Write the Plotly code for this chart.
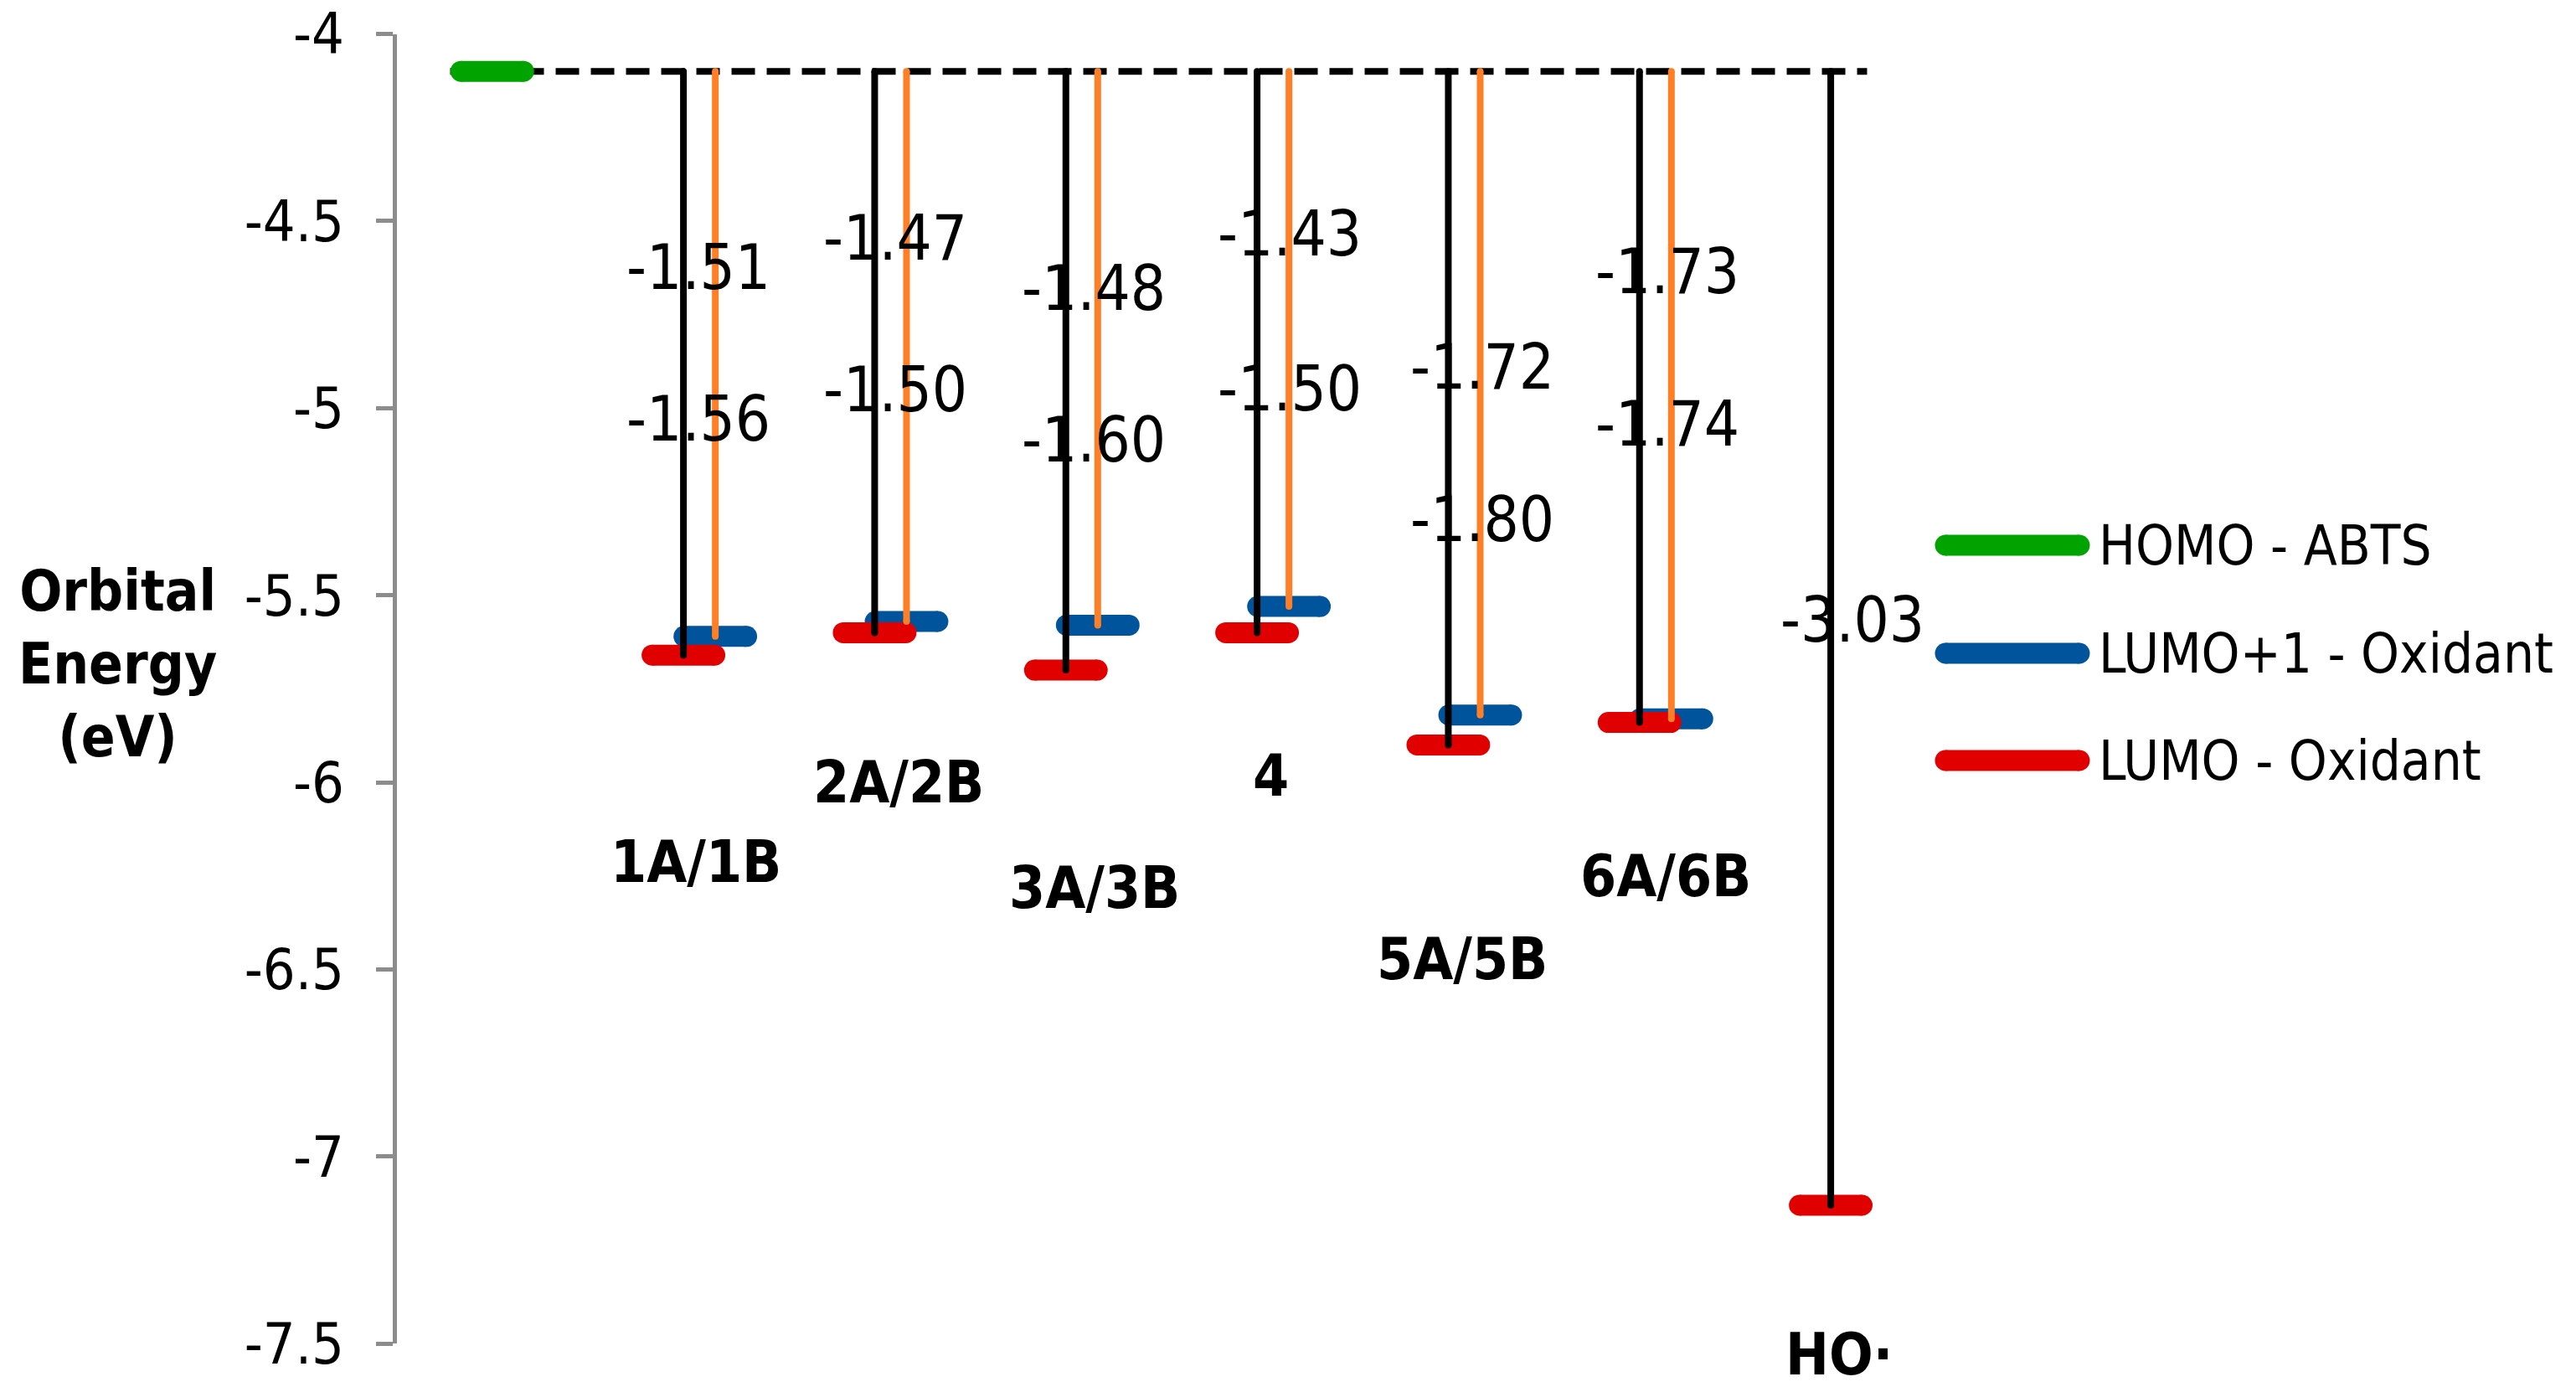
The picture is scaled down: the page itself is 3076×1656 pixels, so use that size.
import plotly.graph_objects as go

# ---------------- data ----------------
CATEGORIES = ["1A/1B", "2A/2B", "3A/3B", "4", "5A/5B", "6A/6B", "HO·"]
HOMO_ABTS = -4.10
LUMO_PLUS1 = [-5.61, -5.57, -5.58, -5.53, -5.82, -5.83, None]
LUMO = [-5.66, -5.60, -5.70, -5.60, -5.90, -5.84, -7.13]
TICK_VALUES = [-4, -4.5, -5, -5.5, -6, -6.5, -7, -7.5]
TICK_TEXT = ["-4", "-4.5", "-5", "-5.5", "-6", "-6.5", "-7", "-7.5"]
LEGEND_NAMES = ["HOMO - ABTS", "LUMO+1 - Oxidant", "LUMO - Oxidant"]

# ---------------- layout / style settings ----------------
W, H = 3076, 1656
FONT = "DejaVu Sans Condensed, DejaVu Sans, sans-serif"
GREEN, BLUE, RED, ORANGE = "#00A300", "#00549C", "#E00000", "#FF7F27"
AXIS_GREY = "#8C8C8C"
BLUE_SHIFT = 1 / 6          # LUMO+1 level drawn slightly right of LUMO
HALF = 0.164                # half length of a level bar (without caps)
BAR_W = 25
Y_MIN, Y_MAX = -7.5, -4.0
# where the gap labels sit (x offset of left edge from the black line, y in eV)
LABEL_DX = [-0.309, -0.276, -0.241, -0.215, -0.208, -0.239, -0.272]
LABEL_Y_UP = [-4.623, -4.545, -4.679, -4.534, -4.890, -4.635, None]
LABEL_Y_LOW = [-5.028, -4.950, -5.084, -4.948, -5.297, -5.042, -5.566]
# category label positions (x in category units, y in eV)
CAT_X = [1.064, 2.127, 3.149, 4.074, 5.072, 6.137, 7.043]
CAT_Y = [-6.212, -6.000, -6.282, -5.982, -6.472, -6.250, -7.529]
DASH_X = (-0.22, 7.19)

X_LEFT_PX, X_RIGHT_PX = 473.6, 2300.25
Y_TOP_PX, Y_BOT_PX = 40.5, 1604.3


def ev_to_paper(v):
    px = Y_TOP_PX + (Y_MAX - v) * (Y_BOT_PX - Y_TOP_PX) / (Y_MAX - Y_MIN)
    return 1 - px / H


fig = go.Figure()

pos = [i + 1 for i in range(len(CATEGORIES))]


def level_trace(xs, ys, color):
    tx, ty = [], []
    for x, y in zip(xs, ys):
        if y is None:
            continue
        tx += [x - HALF, x + HALF, None]
        ty += [y, y, None]
    return go.Scatter(x=tx, y=ty, mode="lines+markers",
                      line=dict(color=color, width=BAR_W),
                      marker=dict(color=color, size=BAR_W, symbol="circle", line=dict(width=0)),
                      hoverinfo="skip", showlegend=False)


# dashed HOMO reference line
fig.add_trace(go.Scatter(x=list(DASH_X), y=[HOMO_ABTS, HOMO_ABTS], mode="lines",
                         line=dict(color="black", width=8, dash="28px,14px"),
                         hoverinfo="skip", showlegend=False))
# green HOMO level
fig.add_trace(level_trace([0], [HOMO_ABTS], GREEN))
# blue LUMO+1 levels
fig.add_trace(level_trace([p + BLUE_SHIFT for p in pos], LUMO_PLUS1, BLUE))
# red LUMO levels
fig.add_trace(level_trace(pos, LUMO, RED))

# black vertical lines HOMO -> LUMO
bx, by = [], []
for p, v in zip(pos, LUMO):
    bx += [p, p, None]
    by += [HOMO_ABTS, v, None]
fig.add_trace(go.Scatter(x=bx, y=by, mode="lines+markers",
                         line=dict(color="black", width=8),
                         marker=dict(color="black", size=8),
                         hoverinfo="skip", showlegend=False))
# orange vertical lines HOMO -> LUMO+1
ox, oy = [], []
for p, v in zip(pos, LUMO_PLUS1):
    if v is None:
        continue
    ox += [p + BLUE_SHIFT, p + BLUE_SHIFT, None]
    oy += [HOMO_ABTS, v, None]
fig.add_trace(go.Scatter(x=ox, y=oy, mode="lines+markers",
                         line=dict(color=ORANGE, width=8),
                         marker=dict(color=ORANGE, size=8),
                         hoverinfo="skip", showlegend=False))

annotations = []
# gap labels
for i, p in enumerate(pos):
    if LUMO_PLUS1[i] is not None and LABEL_Y_UP[i] is not None:
        annotations.append(dict(x=p + LABEL_DX[i], y=LABEL_Y_UP[i], xref="x", yref="y",
                                text=f"{LUMO_PLUS1[i] - HOMO_ABTS:.2f}", showarrow=False,
                                xanchor="left", yanchor="middle",
                                font=dict(family=FONT, size=74, color="black")))
    annotations.append(dict(x=p + LABEL_DX[i], y=LABEL_Y_LOW[i], xref="x", yref="y",
                            text=f"{LUMO[i] - HOMO_ABTS:.2f}", showarrow=False,
                            xanchor="left", yanchor="middle",
                            font=dict(family=FONT, size=74, color="black")))
# category labels (paper y so the one below the axis range is still drawn)
for name, cx, cy in zip(CATEGORIES, CAT_X, CAT_Y):
    annotations.append(dict(x=cx, y=ev_to_paper(cy), xref="x", yref="paper", text=f"<b>{name}</b>",
                            showarrow=False, xanchor="center", yanchor="middle",
                            font=dict(family=FONT, size=69, color="black")))
# axis title
annotations.append(dict(x=140 / W, y=1 - 793 / H, xref="paper", yref="paper",
                        text="<b>Orbital<br>Energy<br>(eV)</b>", showarrow=False,
                        xanchor="center", yanchor="middle", align="center",
                        font=dict(family=FONT, size=67, color="black")))

# legend drawn on an overlay pixel axis
LEG_Y = [651, 780, 908]
LEG_X0, LEG_X1, LEG_TX = 2323, 2483, 2504
for name, col, ly in zip(LEGEND_NAMES, [GREEN, BLUE, RED], LEG_Y):
    fig.add_trace(go.Scatter(x=[LEG_X0, LEG_X1], y=[ly, ly], mode="lines+markers",
                             xaxis="x2", yaxis="y2",
                             line=dict(color=col, width=BAR_W),
                             marker=dict(color=col, size=BAR_W),
                             hoverinfo="skip", showlegend=False))
    annotations.append(dict(x=LEG_TX, y=ly, xref="x2", yref="y2", text=name,
                            showarrow=False, xanchor="left", yanchor="middle",
                            font=dict(family=FONT, size=65, color="black")))

fig.update_layout(
    width=W, height=H,
    margin=dict(l=0, r=0, t=0, b=0, pad=0, autoexpand=False),
    paper_bgcolor="white", plot_bgcolor="rgba(0,0,0,0)",
    showlegend=False,
    annotations=annotations,
    xaxis=dict(domain=[X_LEFT_PX / W, X_RIGHT_PX / W], range=[-0.5, 7.5], automargin=False,
               visible=False, showgrid=False, zeroline=False, fixedrange=True),
    yaxis=dict(domain=[1 - Y_BOT_PX / H, 1 - Y_TOP_PX / H], range=[Y_MIN, Y_MAX],
               automargin=False,
               tickvals=TICK_VALUES, ticktext=TICK_TEXT,
               showgrid=False, zeroline=False,
               showline=True, linecolor=AXIS_GREY, linewidth=5,
               ticks="outside", ticklen=20, tickwidth=5, tickcolor=AXIS_GREY,
               ticklabelstandoff=24,
               tickfont=dict(family=FONT, size=68, color="black"), fixedrange=True),
    xaxis2=dict(domain=[0, 1], range=[0, W], anchor="y2", visible=False,
                automargin=False, fixedrange=True),
    yaxis2=dict(domain=[0, 1], range=[H, 0], anchor="x2", visible=False,
                automargin=False, fixedrange=True),
)

fig.write_html("out.html", config={"displayModeBar": False},
               post_script="document.body.style.margin='0';document.body.style.overflow='hidden';")
